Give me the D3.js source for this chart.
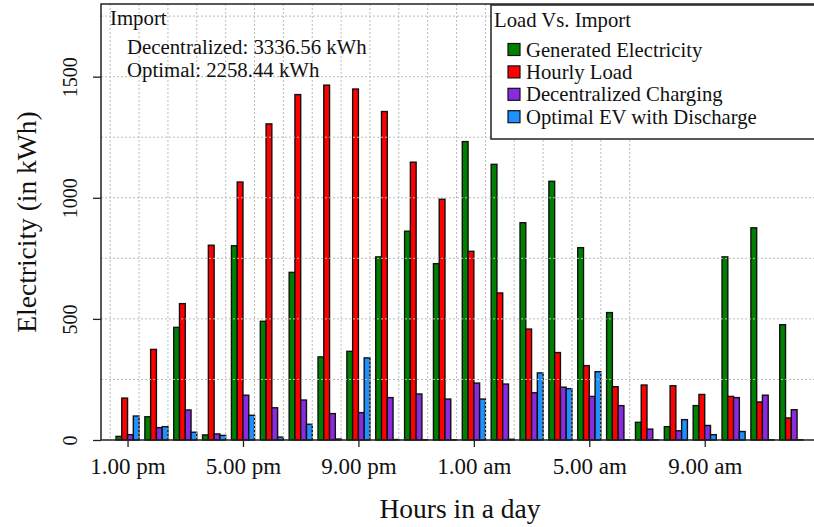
<!DOCTYPE html>
<html>
<head>
<meta charset="utf-8">
<script src="https://cdn.jsdelivr.net/npm/d3@7"></script>
<style>
  html, body { margin: 0; padding: 0; background: #fff; }
  svg { display: block; font-family: "Liberation Serif", "Times New Roman", serif; }
</style>
</head>
<body>
<svg id="chart" width="814" height="527"></svg>
<script>
// ---------------- data ----------------
const hours = ["1.00 pm","2.00 pm","3.00 pm","4.00 pm","5.00 pm","6.00 pm","7.00 pm","8.00 pm",
               "9.00 pm","10.00 pm","11.00 pm","12.00 am","1.00 am","2.00 am","3.00 am","4.00 am",
               "5.00 am","6.00 am","7.00 am","8.00 am","9.00 am","10.00 am","11.00 am","12.00 pm"];
const tickLabels = ["1.00 pm","5.00 pm","9.00 pm","1.00 am","5.00 am","9.00 am"];
const seriesNames = ["Generated Electricity","Hourly Load","Decentralized Charging","Optimal EV with Discharge"];
const seriesColors = ["#008000","#ff0000","#8a2be2","#1e90ff"];
const generated   = [15, 96, 465, 21, 802, 490, 692, 343, 366, 756, 862, 728, 1232, 1138, 897, 1068, 794, 526, 73, 55, 142, 756, 876, 476];
const hourlyLoad  = [173, 374, 563, 804, 1065, 1305, 1426, 1465, 1449, 1356, 1147, 994, 779, 607, 458, 361, 307, 220, 227, 224, 188, 180, 157, 91];
const decentral   = [22, 51, 124, 25, 185, 133, 165, 109, 113, 175, 190, 169, 235, 231, 195, 218, 180, 142, 45, 38, 60, 175, 185, 125];
const optimalEV   = [99, 55, 32, 19, 102, 12, 65, 4, 339, 2, 1, 1, 169, 3, 277, 212, 282, 1, 1, 84, 22, 35, 1, 1];
const yTicks = [0, 500, 1000, 1500];
const yGrid = [250, 500, 750, 1000, 1250, 1500, 1750];
const importTitle = "Import";
const importLines = ["Decentralized: 3336.56 kWh", "Optimal: 2258.44 kWh"];
const legendTitle = "Load Vs. Import";

const series = [generated, hourlyLoad, decentral, optimalEV];

// ---------------- layout ----------------
const svg = d3.select("#chart");
const plot = {left: 101, right: 819, top: 4, bottom: 440};
// x in "bar units": each hour = 4 bars + 1 unit gap before
const x = d3.scaleLinear().domain([-1.6, 122.8]).range([plot.left, plot.right]);
const y = d3.scaleLinear().domain([0, 1800]).range([plot.bottom, plot.top]);

const cells = [];
series.forEach((vals, j) => vals.forEach((v, i) => cells.push({i, j, v})));

// bars
svg.append("g").selectAll("rect").data(cells).join("rect")
  .attr("x", d => x(d.i * 5 + 1 + d.j))
  .attr("width", d => x(d.i * 5 + 2 + d.j) - x(d.i * 5 + 1 + d.j))
  .attr("y", d => y(d.v))
  .attr("height", d => y(0) - y(d.v))
  .attr("fill", d => seriesColors[d.j])
  .attr("stroke", "#111")
  .attr("stroke-width", 1.4);

// grid (drawn over bars)
const grid = svg.append("g").attr("stroke", "#bdbdbd").attr("stroke-width", 1).attr("stroke-dasharray", "2,2");
grid.selectAll("line.h").data(yGrid).join("line").attr("class", "h")
  .attr("x1", plot.left).attr("x2", plot.right)
  .attr("y1", d => y(d)).attr("y2", d => y(d));
const vGrid = d3.range(0, 19).map(k => k * 5);
grid.selectAll("line.v").data(vGrid).join("line").attr("class", "v")
  .attr("x1", d => x(d)).attr("x2", d => x(d))
  .attr("y1", plot.top).attr("y2", plot.bottom);

// box
svg.append("rect").attr("x", plot.left).attr("y", plot.top)
  .attr("width", plot.right - plot.left).attr("height", plot.bottom - plot.top)
  .attr("fill", "none").attr("stroke", "#222").attr("stroke-width", 1.5);

// y axis
const yAxis = d3.axisLeft(y).tickValues(yTicks).tickSize(8).tickFormat(d3.format("d"));
const yg = svg.append("g").attr("transform", `translate(${plot.left},0)`).call(yAxis);
yg.select(".domain").remove();
yg.selectAll(".tick line").attr("stroke", "#222").attr("stroke-width", 1.3);
yg.selectAll(".tick text")
  .attr("font-family", "Liberation Serif").attr("font-size", 20).attr("fill", "#111")
  .attr("x", 0).attr("dy", 0).attr("text-anchor", "middle")
  .attr("transform", "translate(-24,0) rotate(-90)");

// x axis
const tickIdx = tickLabels.map(t => hours.indexOf(t));
const xAxis = d3.axisBottom(x).tickValues(tickIdx.map(i => i * 5 + 3))
  .tickFormat((d, k) => tickLabels[k]).tickSize(7).tickPadding(11);
const xg = svg.append("g").attr("transform", `translate(0,${plot.bottom})`).call(xAxis);
xg.select(".domain").remove();
xg.selectAll(".tick line").attr("stroke", "#222").attr("stroke-width", 1.3);
xg.selectAll(".tick text").attr("font-family", "Liberation Serif").attr("font-size", 23).attr("fill", "#111");

// axis titles
svg.append("text").attr("x", 460).attr("y", 518).attr("text-anchor", "middle")
  .attr("font-size", 27.5).attr("fill", "#111").text("Hours in a day");
svg.append("text").attr("transform", `translate(36,${(plot.top + plot.bottom) / 2}) rotate(-90)`)
  .attr("text-anchor", "middle").attr("font-size", 27.5).attr("fill", "#111").text("Electricity (in kWh)");

// import annotation
svg.append("text").attr("x", 110).attr("y", 25).attr("font-size", 20.8).attr("fill", "#111").text(importTitle);
svg.selectAll("text.imp").data(importLines).join("text").attr("class", "imp")
  .attr("x", 127).attr("y", (d, k) => 54 + k * 23).attr("font-size", 20.8).attr("fill", "#111").text(d => d);

// legend
const lg = svg.append("g");
lg.append("rect").attr("x", 491).attr("y", 5).attr("width", 340).attr("height", 134)
  .attr("fill", "#fff").attr("stroke", "#222").attr("stroke-width", 1.5);
lg.append("text").attr("x", 494).attr("y", 27).attr("font-size", 20.7).attr("fill", "#111").text(legendTitle);
const items = lg.selectAll("g.item").data(seriesNames).join("g").attr("class", "item")
  .attr("transform", (d, k) => `translate(0,${49.5 + k * 22.4})`);
items.append("rect").attr("x", 508).attr("y", -6).attr("width", 12).attr("height", 12)
  .attr("fill", (d, k) => seriesColors[k]).attr("stroke", "#111").attr("stroke-width", 1.2);
items.append("text").attr("x", 526).attr("y", 7).attr("font-size", 20.7).attr("fill", "#111").text(d => d);
</script>
</body>
</html>
